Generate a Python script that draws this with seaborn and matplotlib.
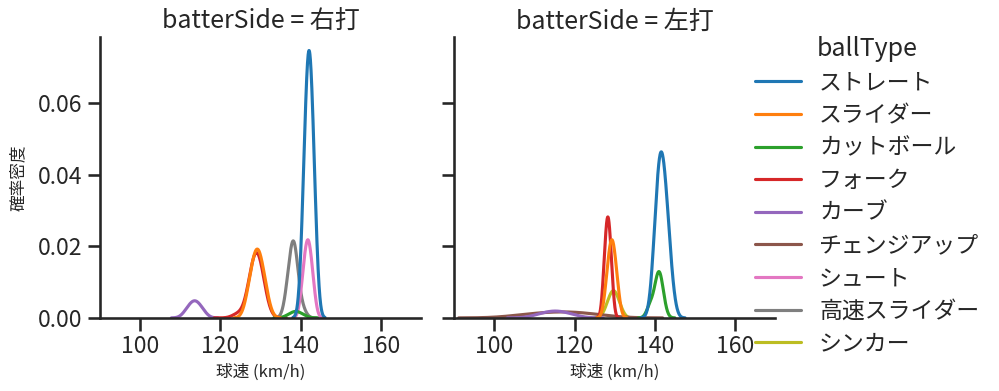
import pandas as pd
import numpy as np
import matplotlib
matplotlib.use("Agg")
import matplotlib.pyplot as plt
import seaborn as sns

ball_types = ["ストレート", "スライダー", "カットボール", "フォーク", "カーブ",
              "チェンジアップ", "シュート", "高速スライダー", "シンカー"]
sides = ["右打", "左打"]

# 右打: speed (km/h) and number of pitches at that speed
speed_right = {
    "ストレート": [140.93, 142.1, 143.27],
    "スライダー": [127.5, 129.2, 130.9],
    "カットボール": [137.2, 138.8, 140.4],
    "フォーク": [124.4, 127.5, 129.0, 130.5],
    "カーブ": [111.9, 113.6, 115.3],
    "シュート": [140.7, 141.8, 142.9],
    "高速スライダー": [136.9, 138.2, 139.1, 140.5],
}
count_right = {
    "ストレート": [60, 121, 61],
    "スライダー": [23, 45, 23],
    "カットボール": [2, 4, 2],
    "フォーク": [4, 21, 43, 22],
    "カーブ": [6, 11, 6],
    "シュート": [17, 33, 17],
    "高速スライダー": [17, 40, 12, 5],
}

# 左打
speed_left = {
    "ストレート": [140.2, 141.4, 142.7, 143.9],
    "スライダー": [128.2, 129.3, 130.4],
    "カットボール": [138.9, 140.5, 141.2, 142.0],
    "フォーク": [127.5, 128.3, 129.1],
    "カーブ": [111.7, 115.2, 118.7],
    "チェンジアップ": [109.1, 117.0, 124.0],
    "シンカー": [128.3, 129.7, 131.1],
}
count_left = {
    "ストレート": [40, 80, 55, 20],
    "スライダー": [17, 33, 17],
    "カットボール": [8, 12, 17, 6],
    "フォーク": [16, 31, 16],
    "カーブ": [5, 9, 5],
    "チェンジアップ": [11, 16, 10],
    "シンカー": [7, 15, 7],
}

rows = []
for side, speeds, counts in [("右打", speed_right, count_right),
                             ("左打", speed_left, count_left)]:
    for bt in ball_types:
        if bt not in speeds:
            continue
        for v, n in zip(speeds[bt], counts[bt]):
            rows.append({"batterSide": side, "ballType": bt, "球速": v, "球数": n})
df = pd.DataFrame(rows)

sns.set_theme(context="talk", style="ticks", palette="tab10")
plt.rcParams["font.family"] = ["Noto Sans CJK JP", "DejaVu Sans"]

g = sns.displot(data=df, x="球速", hue="ballType", col="batterSide",
                weights="球数", kind="kde", hue_order=ball_types,
                palette="tab10", col_order=sides, height=3.9, aspect=0.82)
g.set_axis_labels("球速 (km/h)", "確率密度", fontsize=12)
g.axes[0, 0].yaxis.labelpad = 8
g.set(xlim=(90, 170))
g.figure.set_size_inches(9.99, 3.91)
g.figure.subplots_adjust(left=0.1, right=0.776, bottom=0.187, top=0.905, wspace=0.103)
sns.move_legend(g, "center left", bbox_to_anchor=(0.735, 0.5), labelspacing=0.42)

g.figure.savefig("out.png", dpi=100)
